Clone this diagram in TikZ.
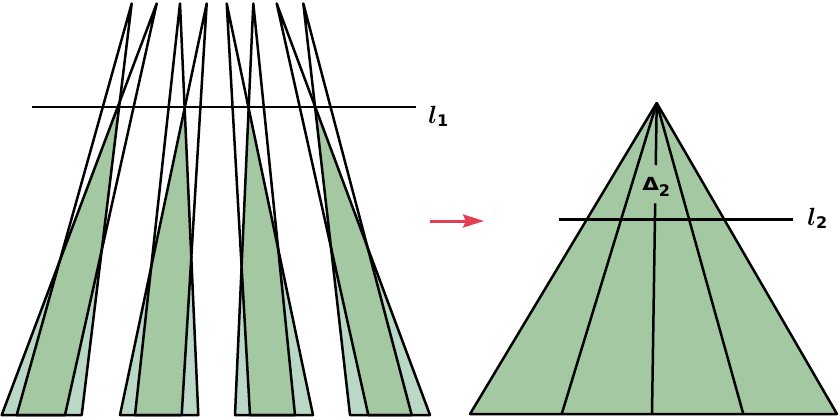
\documentclass[tikz,border=0pt]{standalone}
\usepackage{amsmath}
\usepackage{graphicx}
\usepackage{fontspec}
\usepackage{tikz}
\usetikzlibrary{arrows.meta,calc}
\newfontfamily\lblsans{DejaVu Sans}
\definecolor{leafgreen}{RGB}{163,200,162}
\definecolor{palegreen}{RGB}{186,216,198}
\definecolor{arrowred}{RGB}{228,62,84}

\begin{document}
\begin{tikzpicture}[x=1pt,y=1pt,line width=2.5pt,line join=round,
    lbl/.style={font=\Huge}]
\tikzstyle{every node}+=[inner sep=0pt]
\useasboundingbox (0,0) rectangle (840,-420);
\coordinate (p1) at (131.7,-3.5);
\coordinate (a1) at (16.7,-415);
\coordinate (b1) at (81.7,-415);
\coordinate (p2) at (156.7,-3.5);
\coordinate (a2) at (1.7,-415);
\coordinate (b2) at (65,-415);
\coordinate (p3) at (180,-3.5);
\coordinate (a3) at (135,-415);
\coordinate (b3) at (198.3,-415);
\coordinate (p4) at (206.7,-3.5);
\coordinate (a4) at (120,-415);
\coordinate (b4) at (181.7,-415);
\coordinate (p5) at (226.7,-3.5);
\coordinate (a5) at (250,-415);
\coordinate (b5) at (313,-415);
\coordinate (p6) at (253.3,-3.5);
\coordinate (a6) at (235,-415);
\coordinate (b6) at (295,-415);
\coordinate (p7) at (276.7,-3.5);
\coordinate (a7) at (368.3,-415);
\coordinate (b7) at (430,-415);
\coordinate (p8) at (303.3,-3.5);
\coordinate (a8) at (350,-415);
\coordinate (b8) at (411.7,-415);
\coordinate (x1) at (intersection of p2--a2 and p1--b1);
\coordinate (x2) at (intersection of p4--a4 and p3--b3);
\coordinate (x3) at (intersection of p6--a6 and p5--b5);
\coordinate (x4) at (intersection of p8--a8 and p7--b7);
\fill [palegreen] (x1) -- (a2) -- (b1) -- cycle;
\fill [palegreen] (x2) -- (a4) -- (b3) -- cycle;
\fill [palegreen] (x3) -- (a6) -- (b5) -- cycle;
\fill [palegreen] (x4) -- (a8) -- (b7) -- cycle;
\begin{scope}
  \clip (p1) -- (a1) -- (b1) -- cycle;
  \fill [leafgreen] (p2) -- (a2) -- (b2) -- cycle;
\end{scope}
\begin{scope}
  \clip (p3) -- (a3) -- (b3) -- cycle;
  \fill [leafgreen] (p4) -- (a4) -- (b4) -- cycle;
\end{scope}
\begin{scope}
  \clip (p5) -- (a5) -- (b5) -- cycle;
  \fill [leafgreen] (p6) -- (a6) -- (b6) -- cycle;
\end{scope}
\begin{scope}
  \clip (p7) -- (a7) -- (b7) -- cycle;
  \fill [leafgreen] (p8) -- (a8) -- (b8) -- cycle;
\end{scope}
\draw [black] (p1) -- (a1) -- (b1) -- cycle;
\draw [black] (p2) -- (a2) -- (b2) -- cycle;
\draw [black] (p3) -- (a3) -- (b3) -- cycle;
\draw [black] (p4) -- (a4) -- (b4) -- cycle;
\draw [black] (p5) -- (a5) -- (b5) -- cycle;
\draw [black] (p6) -- (a6) -- (b6) -- cycle;
\draw [black] (p7) -- (a7) -- (b7) -- cycle;
\draw [black] (p8) -- (a8) -- (b8) -- cycle;
\coordinate (l1s) at (32,-107);
\coordinate (l1e) at (416,-107);
\draw [black] (l1s) -- (l1e);
\node [lbl,anchor=base west] (l1lab) at (427,-123) {{\boldmath$l$}\raisebox{-3.3pt}{\lblsans\bfseries\fontsize{16}{18}\selectfont 1}};
\coordinate (ars) at (430,-221);
\coordinate (are) at (484,-221);
\draw [arrowred,line width=3pt,-{Stealth[length=21pt,width=13pt,inset=3pt]}] (ars) -- (are);
\coordinate (r) at (656.7,-103);
\coordinate (q0) at (470,-414);
\coordinate (q1) at (561.7,-414);
\coordinate (q2) at (652,-414);
\coordinate (q3) at (743.3,-414);
\coordinate (q4) at (837,-414);
\fill [leafgreen] (r) -- (q0) -- (q4) -- cycle;
\draw [black] (r) -- (q0) -- (q4) -- cycle;
\draw [black] (r) -- (q1);
\draw [black] (r) -- (q3);
\draw [black] (r) -- ($(r)!0.2!(q2)$);
\draw [black] ($(r)!0.323!(q2)$) -- (q2);
\node [lbl,anchor=base west] (d2) at (641,-190) {\scalebox{1.2}[1]{\lblsans\bfseries\fontsize{18}{20}\selectfont Δ}\raisebox{-6.7pt}{\lblsans\bfseries\fontsize{16}{18}\selectfont 2}};
\coordinate (l2s) at (559,-219.3);
\coordinate (l2e) at (792.7,-219.3);
\draw [black] (l2s) -- (l2e);
\node [lbl,anchor=base west] (l2lab) at (806,-225) {{\boldmath$l$}\raisebox{-3.3pt}{\lblsans\bfseries\fontsize{16}{18}\selectfont 2}};
\end{tikzpicture}
\end{document}
